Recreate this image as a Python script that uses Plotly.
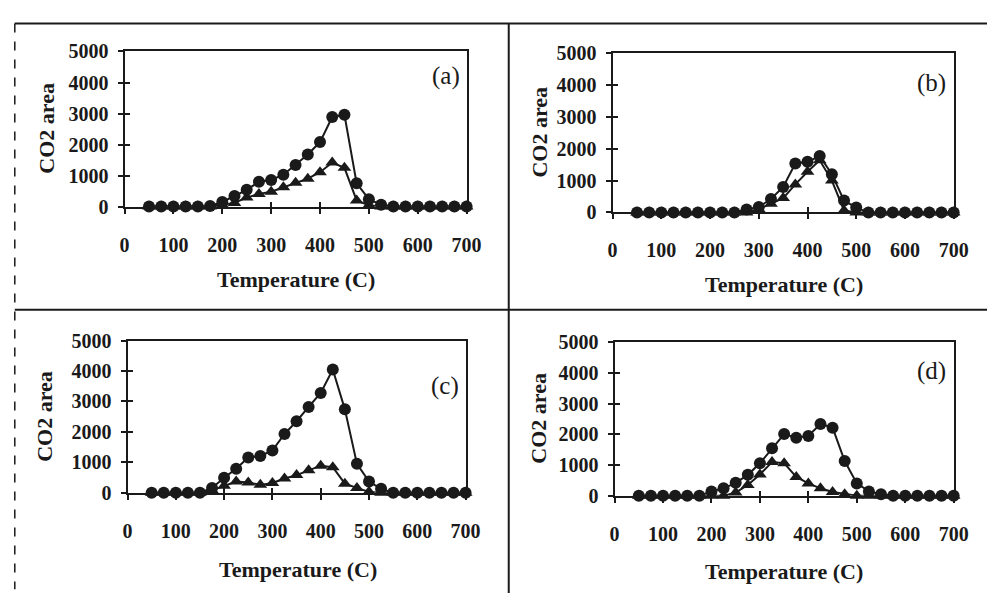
import plotly.graph_objects as go

W, H = 1002, 604

temps = [50, 75, 100, 125, 150, 175, 200, 225, 250, 275, 300, 325, 350, 375,
         400, 425, 450, 475, 500, 525, 550, 575, 600, 625, 650, 675, 700]

a_circ = [0, 0, 0, 0, 0, 20, 150, 340, 540, 800, 860, 1030, 1340, 1680,
          2080, 2890, 2960, 750, 240, 60, 0, 0, 0, 0, 0, 0, 0]
a_tri = [0, 0, 0, 0, 0, 0, 60, 120, 290, 410, 480, 620, 770, 900,
         1110, 1420, 1250, 200, 40, 0, 0, 0, 0, 0, 0, 0, 0]

b_circ = [0, 0, 0, 0, 0, 0, 0, 0, 0, 90, 170, 420, 800, 1540,
          1590, 1770, 1200, 370, 150, 0, 0, 0, 0, 0, 0, 0, 0]
b_tri = [0, 0, 0, 0, 0, 0, 0, 0, 0, 0, 100, 270, 450, 880,
         1280, 1640, 1000, 60, 0, 0, 0, 0, 0, 0, 0, 0, 0]

c_circ = [0, 0, 0, 0, 0, 160, 495, 790, 1160, 1210, 1390, 1930, 2350, 2820,
          3280, 4050, 2740, 950, 370, 130, 0, 0, 0, 0, 0, 0, 0]
c_tri = [0, 0, 0, 0, 0, 80, 230, 370, 340, 260, 320, 470, 580, 740,
         890, 840, 300, 160, 30, 0, 0, 0, 0, 0, 0, 0, 0]

d_circ = [0, 0, 0, 0, 0, 0, 140, 240, 420, 680, 1060, 1550, 2010, 1890,
          1950, 2340, 2220, 1130, 400, 140, 50, 0, 0, 0, 0, 0, 0]
d_tri = [0, 0, 0, 0, 0, 0, 0, 0, 100, 350, 690, 1100, 1060, 610,
         400, 240, 120, 50, 0, 0, 0, 0, 0, 0, 0, 0, 0]

panel_labels = ["(a)", "(b)", "(c)", "(d)"]
x_ticks = [0, 100, 200, 300, 400, 500, 600, 700]
y_ticks = [0, 1000, 2000, 3000, 4000, 5000]
x_title = "Temperature (C)"
y_title = "CO2 area"

# pixel layout of each panel: (left, right, top, bottom)
boxes = [(122, 471, 42, 203), (620, 968, 44, 209),
         (125, 470, 342, 500), (622, 968, 344, 503)]
label_pos = [(450, 67), (945, 75), (449, 389), (945, 374)]
ytitle_pos = [(42, 122), (545, 126), (40, 421), (544, 423)]
xtitle_pos = [(297, 279), (795, 284), (299, 580), (795, 582)]

series = [(a_circ, a_tri), (b_circ, b_tri), (c_circ, c_tri), (d_circ, d_tri)]

INK = "#1a1a1a"
SERIF = "Liberation Serif"

def px(x):
    return x / W

def py(y):
    return 1 - y / H

fig = go.Figure()
layout = dict(width=W, height=H, margin=dict(l=0, r=0, t=0, b=0),
              paper_bgcolor="white", plot_bgcolor="white", showlegend=False,
              annotations=[], shapes=[])

tick_font = dict(family=SERIF, size=20, color=INK, weight="bold")

for i, ((circ, tri), box) in enumerate(zip(series, boxes)):
    n = i + 1
    ox = i + 5
    l, r, t, b = box
    xd = [px(l), px(r)]
    yd = [py(b), py(t)]
    xa = "x" if n == 1 else f"x{n}"
    ya = "y" if n == 1 else f"y{n}"
    common = dict(showgrid=False, zeroline=False)
    layout[f"xaxis{n}"] = dict(domain=xd, range=[0, 700], anchor=ya,
                               tickvals=x_ticks, ticks="outside", ticklen=5,
                               tickwidth=1.5, tickcolor=INK,
                               showline=True, linecolor=INK, linewidth=2,
                               mirror=True, ticklabelstandoff=14,
                               tickfont=tick_font, **common)
    layout[f"yaxis{n}"] = dict(domain=yd, range=[0, 5000], anchor=xa,
                               tickvals=y_ticks, ticks="outside", ticklen=5,
                               tickwidth=1.5, tickcolor=INK,
                               showline=True, linecolor=INK, linewidth=2,
                               mirror=True, ticklabelstandoff=5,
                               tickfont=tick_font, **common)
    # overlay axes that carry the inner half of the cross-shaped ticks
    layout[f"xaxis{ox}"] = dict(domain=xd, range=[0, 700], anchor=ya,
                                overlaying=xa, tickvals=x_ticks, ticks="inside",
                                ticklen=5, tickwidth=1.5, tickcolor=INK,
                                showticklabels=False, showline=False, side="bottom",
                                **common)
    layout[f"yaxis{ox}"] = dict(domain=yd, range=[0, 5000], anchor=xa,
                                overlaying=ya, tickvals=y_ticks, ticks="inside",
                                ticklen=5, tickwidth=1.5, tickcolor=INK,
                                showticklabels=False, showline=False, side="left",
                                **common)
    fig.add_trace(go.Scatter(x=[], y=[], xaxis=f"x{ox}", yaxis=ya, hoverinfo="skip"))
    fig.add_trace(go.Scatter(x=[], y=[], xaxis=xa, yaxis=f"y{ox}", hoverinfo="skip"))

    fig.add_trace(go.Scatter(x=temps, y=tri, xaxis=xa, yaxis=ya, mode="lines+markers",
                             line=dict(color=INK, width=2),
                             marker=dict(symbol="triangle-up", size=12, color=INK),
                             cliponaxis=False))
    fig.add_trace(go.Scatter(x=temps, y=circ, xaxis=xa, yaxis=ya, mode="lines+markers",
                             line=dict(color=INK, width=2),
                             marker=dict(symbol="circle", size=12, color=INK),
                             cliponaxis=False))

    lx, ly = label_pos[i]
    layout["annotations"].append(dict(text=panel_labels[i], x=px(lx), y=py(ly),
                                      xref="paper", yref="paper", showarrow=False,
                                      xanchor="center", yanchor="middle",
                                      font=dict(family=SERIF, size=25, color=INK)))
    tx, ty = ytitle_pos[i]
    layout["annotations"].append(dict(text=y_title, x=px(tx), y=py(ty), textangle=-90,
                                      xref="paper", yref="paper", showarrow=False,
                                      xanchor="center", yanchor="middle",
                                      font=dict(family=SERIF, size=22, color=INK,
                                                weight="bold")))
    tx, ty = xtitle_pos[i]
    layout["annotations"].append(dict(text=x_title, x=px(tx), y=py(ty),
                                      xref="paper", yref="paper", showarrow=False,
                                      xanchor="center", yanchor="middle",
                                      font=dict(family=SERIF, size=22, color=INK,
                                                weight="bold")))

# outer frame of the figure grid
frame = dict(color=INK, width=2)
layout["shapes"] += [
    dict(type="line", xref="paper", yref="paper", x0=px(10), x1=1, y0=py(13), y1=py(13), line=frame),
    dict(type="line", xref="paper", yref="paper", x0=px(10), x1=1, y0=py(310), y1=py(310), line=frame),
    dict(type="line", xref="paper", yref="paper", x0=px(514), x1=px(514), y0=py(13), y1=0, line=frame),
    dict(type="line", xref="paper", yref="paper", x0=px(10), x1=px(10), y0=py(13), y1=py(600),
         line=dict(color=INK, width=1.5, dash="dash")),
]

fig.update_layout(**layout)
fig.write_html("out.html")
